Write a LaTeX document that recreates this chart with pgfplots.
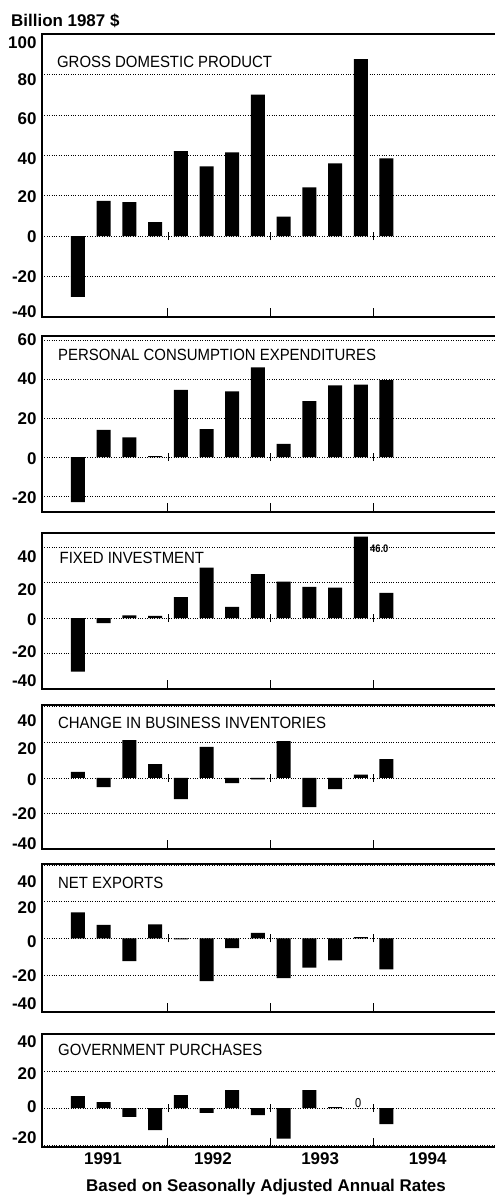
\documentclass[border=0pt]{standalone}
\usepackage{fontspec}
\setmainfont{Liberation Sans}
\newfontfamily\condfont[FakeStretch=0.92]{Liberation Sans}
\newfontfamily\smallcond[FakeStretch=0.85]{Liberation Sans}
\usepackage{pgfplots}
\pgfplotsset{compat=1.18}
\pgfplotsset{
  panel/.style={
    scale only axis,
    width=455bp,
    xmin=-1.40, xmax=16.3,
    anchor=north west,
    ybar, bar width=14bp, bar shift=0pt,
    xtick={3.5,7.5,11.5}, xticklabels={},
    yticklabels={},
    xtick pos=left, ytick pos=left,
    tick align=inside,
    xtick style={line width=1bp, black},
    major tick length=9bp,
    ytick style={draw=none},
    ymajorgrids,
    grid style={black, dotted, line width=0.7bp},
    axis line style={line width=1.2bp},
    extra y tick style={grid=none, major tick length=0pt, ytick style={draw=none}},
    /pgf/number format/assume math mode=true,
    yticklabel style={font=\bfseries\fontsize{17}{19}\selectfont, xshift=-2bp},
    xticklabel style={font=\bfseries\fontsize{17}{19}\selectfont},
    clip=false,
  },
}
\tikzset{
  ttl/.style={anchor=west, inner sep=0pt, font=\condfont\fontsize{16.3}{18}\selectfont},
  bars/.style={fill=black, draw=none},
}
\newcommand{\zeromarks}{%
  \draw[line width=0.9bp] ([yshift=-4bp]axis cs:3.5,0) -- ([yshift=4bp]axis cs:3.5,0);
  \draw[line width=0.9bp] ([yshift=-4bp]axis cs:7.5,0) -- ([yshift=4bp]axis cs:7.5,0);
  \draw[line width=0.9bp] ([yshift=-4bp]axis cs:11.5,0) -- ([yshift=4bp]axis cs:11.5,0);
}
\begin{document}
\begin{tikzpicture}[x=1bp,y=1bp]
\path[use as bounding box] (0,0) rectangle (495,-1196);
\node[anchor=west, inner sep=0pt, font=\bfseries\fontsize{17}{19}\selectfont] at (11,-21) {Billion 1987 \$};

% 1 GDP
\begin{axis}[panel, at={(42bp,-34bp)}, height=283bp, ymin=-40, ymax=100, ytick={-40,-20,0,20,40,60,80,100},
  extra y ticks={95.5,77.5,58,38.5,19.5,-0.5,-20,-37.5}, extra y tick labels={100,80,60,40,20,0,-20,-40}]
\addplot[bars] coordinates {(0,-30) (1,17.5) (2,16.8) (3,6.9) (4,42.1) (5,34.5) (6,41.4) (7,70) (8,9.6) (9,24.1) (10,36) (11,87.6) (12,38.5)};
\node[ttl] at (axis cs:-0.82,86.4) {GROSS DOMESTIC PRODUCT};
\zeromarks
\end{axis}

% 2 PCE
\begin{axis}[panel, at={(42bp,-336bp)}, height=176bp, ymin=-28, ymax=62, ytick={-20,0,20,40,60},
  extra y ticks={60,40,19.5,-0.5,-20.5}, extra y tick labels={60,40,20,0,-20}]
\addplot[bars] coordinates {(0,-23) (1,14) (2,10.1) (3,0.6) (4,34.5) (5,14.4) (6,33.7) (7,46) (8,6.8) (9,28.7) (10,36.7) (11,37.2) (12,39.5)};
\node[ttl] at (axis cs:-0.78,52.5) {PERSONAL CONSUMPTION EXPENDITURES};
\zeromarks
\end{axis}

% 3 Fixed investment
\begin{axis}[panel, at={(42bp,-533bp)}, height=156bp, ymin=-40, ymax=48, ytick={-40,-20,0,20,40},
  extra y ticks={34.6,16,-1,-19,-35.5}, extra y tick labels={40,20,0,-20,-40}]
\addplot[bars] coordinates {(0,-30.2) (1,-2.9) (2,1.6) (3,1.2) (4,11.9) (5,28.5) (6,6.3) (7,24.8) (8,20.6) (9,17.6) (10,17.2) (11,46) (12,14.3)};
\node[ttl] at (axis cs:-0.72,34) {FIXED INVESTMENT};
\node[anchor=west, inner sep=0pt, font=\bfseries\smallcond\fontsize{11}{12}\selectfont] at (axis cs:11.36,39.4) {46.0};
\zeromarks
\end{axis}

% 4 Change in business inventories
\begin{axis}[panel, at={(42bp,-705bp)}, height=144bp, ymin=-40, ymax=41, ytick={-40,-20,0,20,40},
  extra y ticks={32,16.6,-1,-20,-37}, extra y tick labels={40,20,0,-20,-40}]
\addplot[bars] coordinates {(0,3.4) (1,-5.2) (2,21.3) (3,7.8) (4,-11.9) (5,17.5) (6,-3) (7,-0.8) (8,20.7) (9,-16.4) (10,-6.3) (11,1.9) (12,10.6)};
\node[ttl] at (axis cs:-0.78,30.9) {CHANGE IN BUSINESS INVENTORIES};
\zeromarks
\end{axis}

% 5 Net exports
\begin{axis}[panel, at={(42bp,-864bp)}, height=148bp, ymin=-40, ymax=40.5, ytick={-40,-20,0,20,40},
  extra y ticks={31,16.6,-1.5,-20,-35.7}, extra y tick labels={40,20,0,-20,-40}]
\addplot[bars] coordinates {(0,14.2) (1,7.4) (2,-12.3) (3,7.7) (4,-0.5) (5,-23.2) (6,-5.2) (7,3.1) (8,-21.6) (9,-15.9) (10,-11.9) (11,0.8) (12,-16.8)};
\node[ttl] at (axis cs:-0.78,30.3) {NET EXPORTS};
\zeromarks
\end{axis}

% 6 Government purchases
\begin{axis}[panel, at={(42bp,-1034bp)}, height=113bp, ymin=-21, ymax=40, ytick={-20,0,20,40},
  extra y ticks={35.8,18.7,1,-15.8}, extra y tick labels={40,20,0,-20},
  extra x ticks={0.97,5.25,9.42,13.6}, extra x tick labels={1991,1992,1993,1994},
  extra x tick style={major tick length=0pt, grid=none, xticklabel style={yshift=-2bp}}]
\addplot[bars] coordinates {(0,6.5) (1,3.2) (2,-4.7) (3,-11.9) (4,7) (5,-2.5) (6,9.7) (7,-3.8) (8,-16.4) (9,9.7) (10,0.5) (11,0) (12,-8.6)};
\node[ttl] at (axis cs:-0.78,31.4) {GOVERNMENT PURCHASES};
\node[inner sep=0pt, font=\smallcond\fontsize{13}{14}\selectfont] at (axis cs:10.9,2.7) {0};
\zeromarks
\end{axis}

\node[font=\bfseries\fontsize{17}{19}\selectfont] at (266,-1187) {Based on Seasonally Adjusted Annual Rates};
\end{tikzpicture}
\end{document}
